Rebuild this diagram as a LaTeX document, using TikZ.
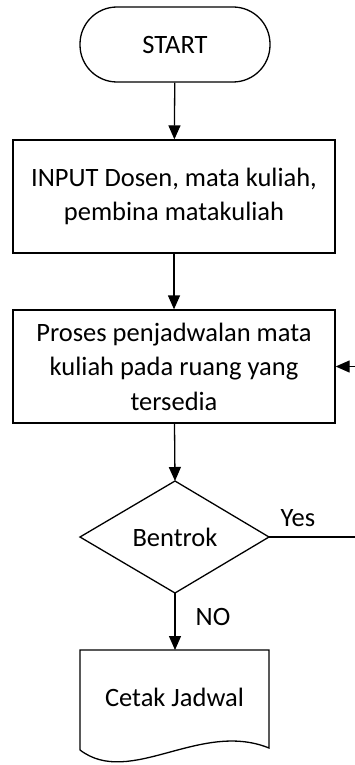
\documentclass[tikz,border=0pt]{standalone}
\usepackage{fontspec}
\setmainfont{Carlito}
\usetikzlibrary{arrows.meta}

\tikzset{
  flow/.style={line width=1.3pt},
  arr/.style={flow, -{Triangle[length=14pt,width=12pt]}},
  terminal/.style={flow, draw, minimum width=190pt, minimum height=75pt, rounded corners=37pt},
  procbox/.style={flow, draw, minimum width=322pt, minimum height=113pt, align=center},
  decide/.style={flow, draw},
  lbl/.style={font=\fontsize{26.5}{34}\selectfont}
}

\begin{document}
\begin{tikzpicture}[x=1pt, y=-1pt, font=\fontsize{26.5}{34.5}\selectfont]
  \useasboundingbox (0,0) rectangle (355,765);
  \node[terminal] (start) at (175,44.5) {START};
  \node[procbox] (input) at (174,196.5) {INPUT Dosen, mata kuliah,\\pembina matakuliah};
  \node[procbox] (proses) at (174,366.5) {Proses penjadwalan mata\\kuliah pada ruang yang\\tersedia};
  % diamond drawn by hand
  \coordinate (dtop) at (175,481);
  \coordinate (dbot) at (175,593);
  \coordinate (dleft) at (80,537);
  \coordinate (dright) at (269,537);
  \draw[decide] (dtop) -- (dright) -- (dbot) -- (dleft) -- cycle;
  \node (bentrok) at (175,537) {Bentrok};
  % document shape
  \coordinate (ctop) at (175,650);
  \draw[flow] (80,750) -- (80,650) -- (269,650) -- (269,748)
     .. controls (200,720) and (130,788) .. (80,750);
  \node (cetak) at (174.5,697) {Cetak Jadwal};
  % connectors
  \draw[arr] (start) -- (input);
  \draw[arr] (input) -- (proses);
  \draw[arr] (proses) -- (dtop);
  \draw[arr] (dbot) -- (ctop);
  \node[lbl] (no) at (213,617) {NO};
  \coordinate (loop) at (357,537);
  \draw[arr] (dright) -- (loop) |- (proses.east);
  \node[lbl] (yes) at (298,518) {Yes};
\end{tikzpicture}
\end{document}
